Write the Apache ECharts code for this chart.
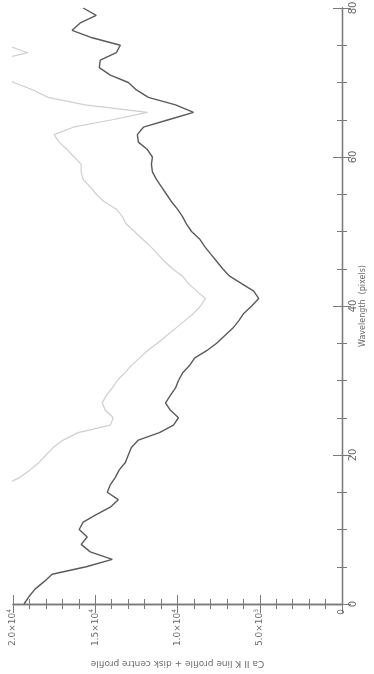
<!DOCTYPE html>
<html>
<head>
<meta charset="utf-8">
<script src="https://cdn.jsdelivr.net/npm/echarts@6/dist/echarts.min.js"></script>
<style>
  html, body { margin: 0; padding: 0; background: #ffffff; }
  #chart { width: 374px; height: 674px; }
</style>
</head>
<body>
<div id="chart"></div>
<script>
// Wavelength in detector pixels
const wavelength = [
  0, 1, 2, 3, 4, 5, 6, 7, 8, 9, 10, 11, 12, 13, 14, 15, 16, 17, 18, 19, 20,
  21, 22, 23, 24, 25, 26, 27, 28, 29, 30, 31, 32, 33, 34, 35, 36, 37, 38, 39, 40,
  41, 42, 43, 44, 45, 46, 47, 48, 49, 50, 51, 52, 53, 54, 55, 56, 57, 58, 59, 60,
  61, 62, 63, 64, 65, 66, 67, 68, 69, 70, 71, 72, 73, 74, 75, 76, 77, 78, 79, 80
];

// Ca II K line profile (counts)
const lineProfile = [
  19330, 19025, 18660, 18110, 17620, 15550, 13965, 15305, 15855, 15490, 15975,
  15735, 14940, 14085, 13600, 14270, 14085, 13780, 13540, 13170, 12990,
  12805, 12380, 11100, 10245, 9940, 10430, 10730, 10430, 10120, 9940,
  9695, 9270, 8965, 8230, 7620, 7135, 6645, 6280, 5975, 5490,
  5060, 5365, 6100, 6830, 7255, 7620, 7990, 8355, 8660, 9145,
  9450, 9695, 10000, 10365, 10670, 10975, 11280, 11525, 11585, 11525,
  11830, 12380, 12440, 12075, 10550, 9025, 10120, 11770, 12500, 12990,
  14085, 14755, 14695, 13720, 13475, 15185, 16405, 15915, 14940, 15735
];

// Disk centre profile (counts), runs past the top of the scale at both ends
const diskCentreProfile = [
  26300, 26000, 25700, 25100, 24600, 22600, 20900, 22300, 22900, 22500, 23000,
  22700, 21900, 21000, 20600, 21100, 20500, 19575, 18965, 18415, 17990,
  17560, 16950, 16040, 14085, 13905, 14390, 14575, 14330, 13965, 13660,
  13230, 12805, 12320, 11830, 11220, 10670, 10120, 9575, 9025, 8600,
  8295, 8840, 9330, 9695, 10305, 10795, 11220, 11645, 12135, 12620,
  13110, 13350, 13720, 14450, 14940, 15305, 15735, 15855, 15855, 16280,
  16710, 17195, 17500, 16340, 13965, 11830, 15610, 17870, 18780, 19940,
  20800, 21600, 21000, 19100, 20400, 22200, 23400, 22900, 21900, 22700
];

// Intensity axis ticks and their labels ({s|...} is a superscript)
const intensityTicks = [0, 5000, 10000, 15000, 20000];
const intensityTickLabels = ['0', '5.0\u00d710{s|3}', '1.0\u00d710{s|4}', '1.5\u00d710{s|4}', '2.0\u00d710{s|4}'];

// Wavelength axis ticks
const wavelengthTicks = [0, 20, 40, 60, 80];

const axisGrey = '#7a7a7a';
const textGrey = '#6a6a6a';

const tickStyle = { show: true, inside: true, length: 9, lineStyle: { color: axisGrey, width: 1 } };
const minorStyle = { show: true, length: 5, lineStyle: { color: axisGrey, width: 1 } };

const chart = echarts.init(document.getElementById('chart'), null, { renderer: 'canvas' });

chart.setOption({
  animation: false,
  backgroundColor: '#ffffff',
  grid: { left: 13, right: 32, top: 8, bottom: 70, containLabel: false, outerBoundsMode: 'none' },
  xAxis: [
    {
      type: 'value',
      position: 'bottom',
      min: 0,
      max: 20000,
      interval: 5000,
      inverse: true,
      axisLine: { show: true, lineStyle: { color: axisGrey, width: 1.3 } },
      axisTick: tickStyle,
      minorTick: Object.assign({ splitNumber: 5 }, minorStyle),
      splitLine: { show: false },
      axisLabel: {
        rotate: 90,
        margin: 5,
        color: textGrey,
        fontSize: 9,
        fontFamily: 'DejaVu Sans',
        lineHeight: 13,
        formatter: function (v) {
          const i = intensityTicks.indexOf(v);
          return i >= 0 ? intensityTickLabels[i] : '';
        },
        rich: {
          s: { fontSize: 6, verticalAlign: 'top', lineHeight: 13, color: textGrey, fontFamily: 'DejaVu Sans' }
        }
      },
      name: 'Ca II K line profile + disk centre profile',
      nameLocation: 'middle',
      nameRotate: 180,
      nameGap: 55,
      nameTextStyle: { color: textGrey, fontSize: 9, fontFamily: 'DejaVu Sans' }
    },
    {
      type: 'value',
      position: 'top',
      min: 0,
      max: 20000,
      interval: 5000,
      inverse: true,
      axisLine: { show: true, lineStyle: { color: axisGrey, width: 1.3 } },
      axisTick: tickStyle,
      minorTick: Object.assign({ splitNumber: 5 }, minorStyle),
      splitLine: { show: false },
      axisLabel: { show: false }
    }
  ],
  yAxis: [
    {
      type: 'value',
      position: 'right',
      min: 0,
      max: 80,
      interval: 20,
      axisLine: { show: true, lineStyle: { color: axisGrey, width: 1.3 } },
      axisTick: tickStyle,
      minorTick: Object.assign({ splitNumber: 4 }, minorStyle),
      splitLine: { show: false },
      axisLabel: {
        rotate: 90,
        margin: 6,
        color: textGrey,
        fontSize: 10,
        fontFamily: 'DejaVu Sans',
        formatter: function (v) {
          return wavelengthTicks.indexOf(v) >= 0 ? String(v) : '';
        }
      },
      name: 'Wavelength  (pixels)',
      nameLocation: 'middle',
      nameRotate: 90,
      nameGap: 17,
      nameMoveOverlap: false,
      nameTextStyle: { color: textGrey, fontSize: 8, fontFamily: 'DejaVu Sans' }
    },
    {
      type: 'value',
      position: 'left',
      min: 0,
      max: 80,
      interval: 20,
      axisLine: { show: true, lineStyle: { color: axisGrey, width: 1.3 } },
      axisTick: tickStyle,
      minorTick: Object.assign({ splitNumber: 4 }, minorStyle),
      splitLine: { show: false },
      axisLabel: { show: false }
    }
  ],
  series: [
    {
      name: 'Disk centre profile',
      type: 'line',
      xAxisIndex: 0,
      yAxisIndex: 0,
      showSymbol: false,
      clip: true,
      lineStyle: { color: '#cfcfcf', width: 1.2 },
      data: wavelength.map(function (w, i) { return [diskCentreProfile[i], w]; })
    },
    {
      name: 'Ca II K line profile',
      type: 'line',
      xAxisIndex: 0,
      yAxisIndex: 0,
      showSymbol: false,
      clip: true,
      lineStyle: { color: '#5a5a5a', width: 1.4 },
      data: wavelength.map(function (w, i) { return [lineProfile[i], w]; })
    }
  ]
});
</script>
</body>
</html>
